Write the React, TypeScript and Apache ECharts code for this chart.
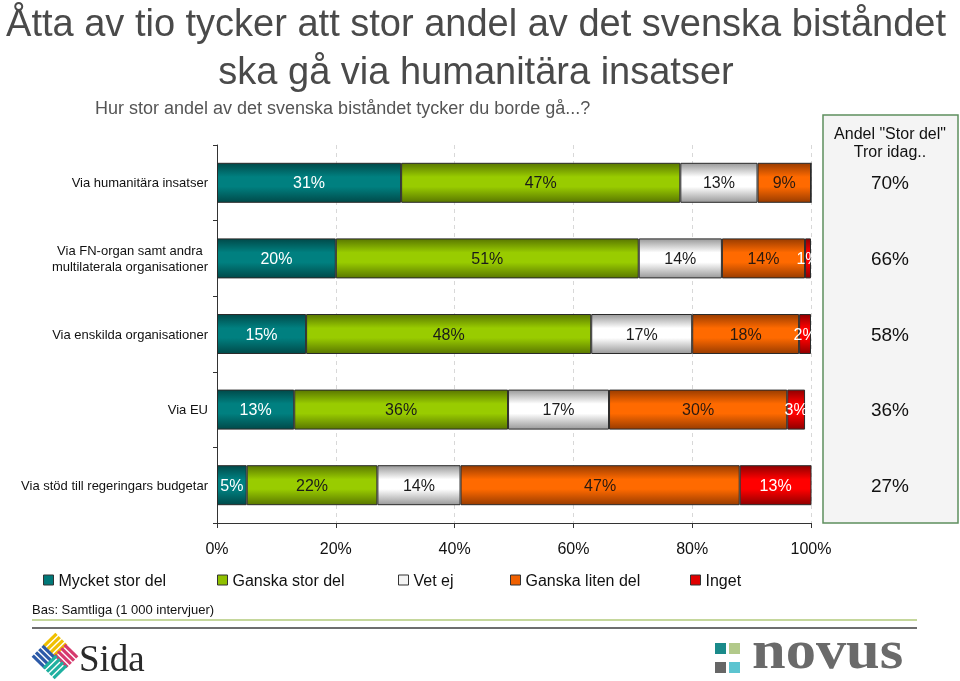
import React, { useEffect, useRef } from "react";
import * as echarts from "echarts";

const categories = [
  "Via humanitära insatser",
  "Via FN-organ samt andra\nmultilaterala organisationer",
  "Via enskilda organisationer",
  "Via EU",
  "Via stöd till regeringars budgetar",
];
const seriesNames = ["Mycket stor del", "Ganska stor del", "Vet ej", "Ganska liten del", "Inget"];
const mycketStor = [31, 20, 15, 13, 5];
const ganskaStor = [47, 51, 48, 36, 22];
const vetEj = [13, 14, 17, 17, 14];
const ganskaLiten = [9, 14, 18, 30, 47];
const inget = [0, 1, 2, 3, 13];
const andelStorDel = [70, 66, 58, 36, 27];
const xTickMax = 100;
const xTickStep = 20;

const FONT = "'Liberation Sans', Arial, sans-serif";

const palette = [
  { mid: "#008080", edge: "#004a4a", solid: "#007878", label: "#ffffff" },
  { mid: "#99cc00", edge: "#5a7800", solid: "#8fc000", label: "#1a1a1a" },
  { mid: "#ffffff", edge: "#9a9a9a", solid: "#f4f4f4", label: "#1a1a1a" },
  { mid: "#ff6a00", edge: "#9a3c00", solid: "#f06000", label: "#2a1a10" },
  { mid: "#ff0000", edge: "#900000", solid: "#e00000", label: "#ffffff" },
];

function grad(edge: string, mid: string) {
  return {
    type: "linear",
    x: 0,
    y: 0,
    x2: 0,
    y2: 1,
    colorStops: [
      { offset: 0, color: edge },
      { offset: 0.35, color: mid },
      { offset: 0.6, color: mid },
      { offset: 1, color: edge },
    ],
  };
}

function stripes(cx: number, cy: number, dx: number, dy: number, color: string) {
  const px = -dy;
  const py = dx;
  const out: any[] = [];
  for (let k = -1.5; k <= 1.5; k += 1) {
    const ox = cx + px * k * 4.6;
    const oy = cy + py * k * 4.6;
    out.push({
      type: "line",
      shape: { x1: ox - dx * 9, y1: oy - dy * 9, x2: ox + dx * 9, y2: oy + dy * 9 },
      style: { stroke: color, lineWidth: 3.2 },
    });
  }
  return out;
}

export default function App() {
  const ref = useRef<HTMLDivElement>(null);
  useEffect(() => {
    if (!ref.current) return;
    const chart = echarts.init(ref.current, undefined, { renderer: "svg" });
    const values = [mycketStor, ganskaStor, vetEj, ganskaLiten, inget];
    const legendLeft = [43, 217, 398, 510, 690];
    const s = 0.7071;
    chart.setOption({
      animation: false,
      textStyle: { fontFamily: FONT },
      title: [
        {
          text: "Åtta av tio tycker att stor andel av det svenska biståndet\nska gå via humanitära insatser",
          left: 476,
          textAlign: "center",
          top: -1,
          padding: 0,
          textStyle: { fontSize: 38, fontWeight: "normal", color: "#4a4a4a", lineHeight: 48, fontFamily: FONT },
        },
        {
          text: "Hur stor andel av det svenska biståndet tycker du borde gå...?",
          left: 95,
          top: 99,
          padding: 0,
          textStyle: { fontSize: 18, fontWeight: "normal", color: "#555555", fontFamily: FONT },
        },
      ],
      legend: seriesNames.map((n, i) => ({
        data: [{ name: n, itemStyle: { color: palette[i].solid, borderColor: "#333", borderWidth: 1 } }],
        left: legendLeft[i],
        top: 572,
        padding: 0,
        icon: "rect",
        itemWidth: 10,
        itemHeight: 10,
        itemGap: 5,
        textStyle: { fontSize: 16, color: "#111", fontFamily: FONT },
        selectedMode: false,
      })),
      grid: { left: 217, right: 149, top: 145, bottom: 158, containLabel: false },
      xAxis: {
        type: "value",
        min: 0,
        max: xTickMax,
        interval: xTickStep,
        axisLine: { show: true, lineStyle: { color: "#333", width: 1 } },
        axisTick: { show: true, length: 5, lineStyle: { color: "#333" } },
        axisLabel: { formatter: "{value}%", fontSize: 16, color: "#111", margin: 17, fontFamily: FONT },
        splitLine: { show: true, lineStyle: { color: "#d8d8d8", type: [4, 4], width: 1 } },
      },
      yAxis: [
        {
          type: "category",
          data: categories,
          inverse: true,
          axisLine: { show: true, lineStyle: { color: "#333", width: 1 } },
          axisTick: { show: true, length: 4, lineStyle: { color: "#333" } },
          axisLabel: {
            fontSize: 13,
            color: "#111",
            margin: 9,
            fontFamily: FONT,
            formatter: (v: string) =>
              v.indexOf("\n") >= 0 ? v.split("\n").map((l) => `{c|${l}}`).join("\n") : v,
            rich: { c: { align: "center", fontSize: 13, color: "#111", lineHeight: 16, fontFamily: FONT } },
          },
          splitLine: { show: false },
        },
        {
          type: "category",
          data: categories,
          inverse: true,
          position: "right",
          axisLine: { show: false },
          axisTick: { show: false },
          splitLine: { show: false },
          axisLabel: {
            formatter: (_v: string, i: number) => andelStorDel[i] + "%",
            align: "center",
            margin: 79,
            fontSize: 19,
            color: "#111",
            fontFamily: FONT,
          },
        },
      ],
      series: seriesNames.map((n, i) => ({
        name: n,
        type: "bar",
        stack: "total",
        barWidth: 40,
        data: values[i],
        itemStyle: { color: grad(palette[i].edge, palette[i].mid), borderColor: "#2a2a2a", borderWidth: 1 },
        label: {
          show: true,
          position: "inside",
          formatter: (p: any) => (p.value ? p.value + "%" : ""),
          fontSize: 16,
          color: palette[i].label,
          fontFamily: FONT,
        },
        emphasis: { disabled: true },
      })),
      graphic: [
        {
          type: "rect",
          z: -1,
          shape: { x: 823, y: 115, width: 135, height: 408 },
          style: { fill: "#f4f4f4", stroke: "#5e8f5e", lineWidth: 1.5 },
        },
        {
          type: "text",
          x: 890,
          y: 124,
          style: {
            text: 'Andel "Stor del"\nTror idag..',
            fill: "#111",
            fontSize: 16,
            lineHeight: 18,
            align: "center",
            verticalAlign: "top",
            fontFamily: FONT,
          },
        },
        {
          type: "text",
          x: 32,
          y: 609,
          style: {
            text: "Bas: Samtliga (1 000 intervjuer)",
            fill: "#111",
            fontSize: 13,
            verticalAlign: "middle",
            fontFamily: FONT,
          },
        },
        { type: "line", shape: { x1: 32, y1: 620, x2: 917, y2: 620 }, style: { stroke: "#c5d79c", lineWidth: 2 } },
        { type: "line", shape: { x1: 32, y1: 628, x2: 917, y2: 628 }, style: { stroke: "#6e6e6e", lineWidth: 2 } },
        ...stripes(55, 645, s, -s, "#f0c000"),
        ...stripes(66, 656, s, s, "#d63a6e"),
        ...stripes(44, 657, s, s, "#2c5aa8"),
        ...stripes(55, 667, s, -s, "#1fb0a0"),
        {
          type: "text",
          x: 79,
          y: 658,
          style: {
            text: "Sida",
            fill: "#2a2a2a",
            fontSize: 37,
            lineHeight: 40,
            verticalAlign: "middle",
            fontFamily: "'Liberation Serif', 'DejaVu Serif', serif",
          },
        },
        { type: "rect", shape: { x: 715, y: 643, width: 11, height: 11 }, style: { fill: "#1a8a8a" } },
        { type: "rect", shape: { x: 729, y: 643, width: 11, height: 11 }, style: { fill: "#b2c98a" } },
        { type: "rect", shape: { x: 715, y: 662, width: 11, height: 11 }, style: { fill: "#666666" } },
        { type: "rect", shape: { x: 729, y: 662, width: 11, height: 11 }, style: { fill: "#5cc4d0" } },
        {
          type: "text",
          x: 752,
          y: 649,
          scaleX: 1.1,
          style: {
            text: "novus",
            fill: "#6a6a6a",
            fontSize: 55,
            lineHeight: 52,
            fontWeight: "bold",
            verticalAlign: "middle",
            fontFamily: "'Liberation Serif', 'DejaVu Serif', serif",
          },
        },
      ],
    });
    return () => chart.dispose();
  }, []);
  return <div ref={ref} style={{ position: "fixed", left: 0, top: 0, width: 960, height: 681 }} />;
}
